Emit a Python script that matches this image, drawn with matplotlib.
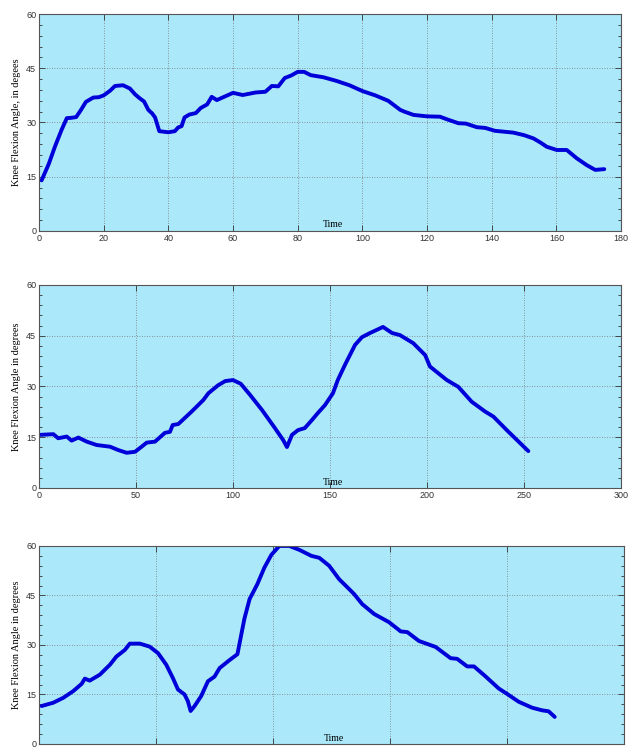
import numpy as np
import matplotlib
matplotlib.use("Agg")
import matplotlib.pyplot as plt
from matplotlib.ticker import MultipleLocator

# ---- data ----
t1 = [0.8, 3, 5, 7, 8.6, 10, 11.5, 13, 14.5, 16.8, 18.5, 20, 22, 23.5, 26, 28.1, 29.7,
      31, 32.5, 33.8, 35, 35.9, 37.2, 40, 42, 43, 44.1, 45, 46.5, 48.5, 50, 52, 53.4,
      55, 58, 60, 63, 67, 70, 72, 74, 76, 78, 80, 82, 84, 88, 92, 96, 100, 104, 108,
      111.7, 113, 115.8, 120, 124, 126.1, 129.7, 132, 135.4, 138, 141, 146.7, 150,
      152.9, 155, 157, 160.1, 163.2, 166.3, 169.4, 172, 174.8]
v1 = [14.0, 18.5, 23.5, 28.0, 31.2, 31.3, 31.5, 33.5, 35.7, 36.9, 37.0, 37.5, 38.8, 40.1,
      40.3, 39.4, 37.8, 36.8, 35.8, 33.5, 32.5, 31.4, 27.6, 27.3, 27.6, 28.6, 29.0, 31.4,
      32.2, 32.6, 34.0, 35.0, 37.1, 36.2, 37.4, 38.2, 37.6, 38.3, 38.5, 40.1, 40.0, 42.3,
      43.0, 44.0, 44.0, 43.1, 42.5, 41.5, 40.3, 38.7, 37.5, 36.0, 33.5, 33.0, 32.1, 31.7,
      31.6, 30.9, 29.8, 29.7, 28.7, 28.5, 27.7, 27.2, 26.5, 25.6, 24.5, 23.3, 22.4, 22.4,
      20.1, 18.2, 16.9, 17.1]

t2 = [0.5, 7.4, 9.9, 14.3, 16.8, 20.3, 24.6, 29.7, 36.6, 40.9, 45.2, 49.5, 52.9, 55.5,
      59.8, 64.9, 67.5, 68.9, 71.8, 78.7, 84.7, 87.3, 92.4, 96, 100, 104, 108.8, 115,
      121.6, 125.8, 127.8, 130.4, 133.5, 137, 140.7, 143.8, 147.4, 151.5, 154, 157.7,
      162.9, 166.5, 170.6, 177.3, 182, 186, 192.9, 199, 201.5, 210.2, 216.1, 223, 229.9,
      234.2, 241.1, 252.2]
v2 = [15.7, 15.9, 14.7, 15.2, 14.0, 14.9, 13.7, 12.7, 12.2, 11.2, 10.4, 10.7, 12.2, 13.4,
      13.7, 16.3, 16.6, 18.6, 18.9, 22.6, 26.0, 28.0, 30.4, 31.6, 31.9, 30.8, 27.5, 23.0,
      17.7, 14.2, 12.1, 15.7, 17.1, 17.7, 20.1, 22.2, 24.5, 28.0, 31.9, 36.4, 42.3, 44.6,
      45.8, 47.6, 45.8, 45.2, 42.8, 39.3, 35.9, 31.9, 29.9, 25.5, 22.6, 21.1, 17.1, 10.9]

t3 = [1.1, 6.1, 10.4, 14.6, 18.2, 19.6, 21.7, 26, 30.3, 33.1, 36.7, 38.8, 43.1, 47.3,
      50.9, 54.4, 57.2, 59.4, 62.2, 63.6, 64.8, 66.5, 69.3, 72.2, 75, 77.2, 81.4, 84.8,
      87.8, 90, 93.3, 96.3, 99.3, 102.7, 107, 111.3, 116.4, 119.8, 124, 128.3, 132.6,
      134.7, 138.1, 143.2, 149.6, 154.6, 157.4, 162.4, 169.5, 175.9, 178.7, 183, 185.9,
      190.8, 196.5, 200, 205, 210.7, 215, 217.8, 220.4]
v3 = [11.5, 12.5, 14.0, 16.0, 18.2, 19.8, 19.2, 21.0, 24.0, 26.5, 28.5, 30.4, 30.4, 29.5,
      27.5, 24.0, 20.0, 16.5, 15.0, 13.0, 10.0, 11.5, 14.5, 19.0, 20.4, 23.0, 25.4, 27.2,
      38.0, 43.9, 48.4, 53.4, 57.3, 60.0, 60.0, 58.8, 57.0, 56.4, 54.0, 49.9, 46.9, 45.4,
      42.4, 39.4, 36.9, 34.1, 33.9, 31.2, 29.4, 26.0, 25.8, 23.5, 23.5, 20.5, 16.8, 15.2,
      12.8, 11.0, 10.2, 9.9, 8.2]

# (time, angle, x max, x step, y label, axes box, show x tick labels)
panels = [
    (t1, v1, 180, 20, "Knee Flexion Angle, in degees", [0.0617, 0.6916, 0.921, 0.2897], True),
    (t2, v2, 300, 50, "Knee Flexion Angle in degrees", [0.0617, 0.3485, 0.921, 0.2710], True),
    (t3, v3, 250, 50, "Knee Flexion Angle in degrees", [0.0617, 0.0067, 0.9256, 0.2644], False),
]

bg = "#abe9fa"
line_col = "#0000d8"

fig = plt.figure(figsize=(6.32, 7.49), dpi=100)

for t, v, xmax, xstep, ylab, pos, show_x in panels:
    ax = fig.add_axes(pos)
    ax.set_facecolor(bg)
    ax.plot(t, v, color=line_col, lw=2.8, solid_capstyle="round", solid_joinstyle="round")
    ax.set_xlim(0, xmax)
    ax.set_ylim(0, 60)
    ax.xaxis.set_major_locator(MultipleLocator(xstep))
    ax.yaxis.set_major_locator(MultipleLocator(15))
    ax.yaxis.set_minor_locator(MultipleLocator(3))
    ax.tick_params(which="both", direction="in", top=True, right=True,
                   labelsize=6.5, colors="#333333", pad=2)
    ax.tick_params(which="major", length=4, width=0.6)
    ax.tick_params(which="minor", length=2.5, width=0.6)
    # bottom panel's tick labels fall off the bottom of the picture in the original
    ax.tick_params(axis="x", labelbottom=show_x)
    for lbl in ax.get_xticklabels() + ax.get_yticklabels():
        lbl.set_family("Liberation Sans")
    ax.grid(True, which="major", linestyle=(0, (1, 2)), color="#777777", lw=0.6)
    for s in ax.spines.values():
        s.set_color("#555555")
        s.set_linewidth(0.8)
    ax.set_ylabel(ylab, family="Liberation Serif", fontsize=7.5, labelpad=4)
    ax.text(0.505, 0.028, "Time", transform=ax.transAxes, ha="center", va="center",
            family="Liberation Serif", fontsize=7)

fig.savefig("out.png", dpi=100)
